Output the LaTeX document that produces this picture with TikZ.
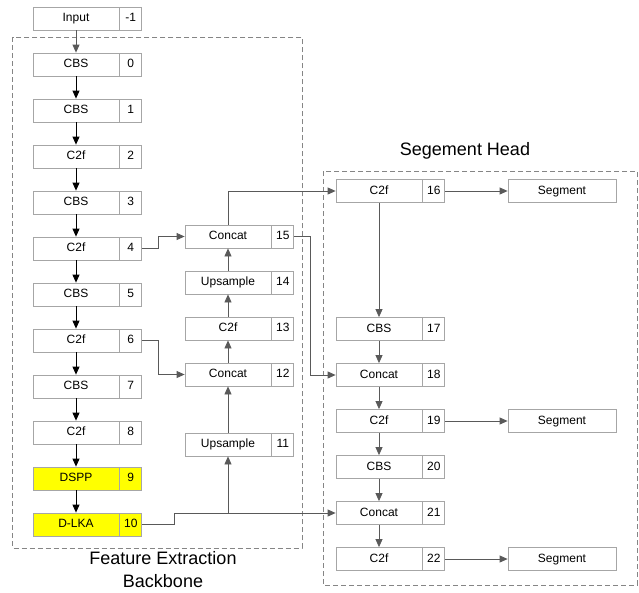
\documentclass[tikz,border=0pt]{standalone}
\usepackage{fontspec}
\setmainfont{Liberation Sans}
\usetikzlibrary{arrows.meta}
\definecolor{boxgray}{HTML}{A6A6A6}
\definecolor{linegray}{HTML}{595959}
\definecolor{dashgray}{HTML}{858585}
\definecolor{layeryellow}{HTML}{FFFF00}
\begin{document}
\begin{tikzpicture}[node distance=46pt, auto]
    % Define styles
    \tikzstyle{layer} = [rectangle, minimum width=86pt, minimum height=23pt, inner sep=0pt, text height=8.6pt, text depth=2.4pt, text centered, draw=boxgray, fill=white, line width=0.8pt, font=\fontsize{12}{14}\selectfont]
    \tikzstyle{num} = [layer, minimum width=22pt, anchor=west]
    \tikzstyle{output} = [layer, minimum width=108pt]
    \tikzstyle{hl} = [fill=layeryellow]
    \tikzstyle{arrow} = [-{Triangle[length=8pt,width=7pt]}, line width=0.8pt, draw=linegray]
    \tikzstyle{arrowblk} = [arrow, draw=black]
    \tikzstyle{group} = [draw=dashgray, line width=0.8pt, dash pattern=on 5pt off 3pt]
    \tikzstyle{title} = [font=\fontsize{18}{23}\selectfont, align=center]

    \useasboundingbox (0,0) rectangle (639pt,-592pt);

    % Group frames
    \draw [group] (12.7pt,-37pt) rectangle (302pt,-548pt);
    \draw [group] (323pt,-171pt) rectangle (637pt,-585pt);
    \node (backbonelabel) [title] at (163pt,-570pt) {Feature Extraction\\Backbone};
    \node (headlabel) [title] at (465pt,-151pt) {Segement Head};

    % Backbone
    \node (input) [layer] at (76pt,-18.5pt) {Input};
    \node (cbs0) [layer, below of=input] {CBS};
    \node (cbs1) [layer, below of=cbs0] {CBS};
    \node (c2f2) [layer, below of=cbs1] {C2f};
    \node (cbs3) [layer, below of=c2f2] {CBS};
    \node (c2f4) [layer, below of=cbs3] {C2f};
    \node (cbs5) [layer, below of=c2f4] {CBS};
    \node (c2f6) [layer, below of=cbs5] {C2f};
    \node (cbs7) [layer, below of=c2f6] {CBS};
    \node (c2f8) [layer, below of=cbs7] {C2f};
    \node (dspp9) [layer, hl, below of=c2f8] {DSPP};
    \node (dlka10) [layer, hl, below of=dspp9] {D-LKA};

    \node (inputn) [num] at (input.east) {-1};
    \node (cbs0n) [num] at (cbs0.east) {0};
    \node (cbs1n) [num] at (cbs1.east) {1};
    \node (c2f2n) [num] at (c2f2.east) {2};
    \node (cbs3n) [num] at (cbs3.east) {3};
    \node (c2f4n) [num] at (c2f4.east) {4};
    \node (cbs5n) [num] at (cbs5.east) {5};
    \node (c2f6n) [num] at (c2f6.east) {6};
    \node (cbs7n) [num] at (cbs7.east) {7};
    \node (c2f8n) [num] at (c2f8.east) {8};
    \node (dspp9n) [num, hl] at (dspp9.east) {9};
    \node (dlka10n) [num, hl] at (dlka10.east) {10};

    % Neck
    \node (concat15) [layer] at (228pt,-236.5pt) {Concat};
    \node (up14) [layer, below of=concat15] {Upsample};
    \node (c2f13) [layer, below of=up14] {C2f};
    \node (concat12) [layer, below of=c2f13] {Concat};
    \node (up11) [layer] at (228pt,-444.5pt) {Upsample};

    \node (concat15n) [num] at (concat15.east) {15};
    \node (up14n) [num] at (up14.east) {14};
    \node (c2f13n) [num] at (c2f13.east) {13};
    \node (concat12n) [num] at (concat12.east) {12};
    \node (up11n) [num] at (up11.east) {11};

    % Head
    \node (c2f16) [layer] at (379pt,-191pt) {C2f};
    \node (cbs17) [layer] at (379pt,-329pt) {CBS};
    \node (concat18) [layer, below of=cbs17] {Concat};
    \node (c2f19) [layer, below of=concat18] {C2f};
    \node (cbs20) [layer, below of=c2f19] {CBS};
    \node (concat21) [layer, below of=cbs20] {Concat};
    \node (c2f22) [layer, below of=concat21] {C2f};

    \node (c2f16n) [num] at (c2f16.east) {16};
    \node (cbs17n) [num] at (cbs17.east) {17};
    \node (concat18n) [num] at (concat18.east) {18};
    \node (c2f19n) [num] at (c2f19.east) {19};
    \node (cbs20n) [num] at (cbs20.east) {20};
    \node (concat21n) [num] at (concat21.east) {21};
    \node (c2f22n) [num] at (c2f22.east) {22};

    \node (seg16) [output] at (562pt,-191pt) {Segment};
    \node (seg19) [output] at (562pt,-421pt) {Segment};
    \node (seg22) [output] at (562pt,-559pt) {Segment};

    % Backbone arrows
    \draw [arrow] (input.south) -- (cbs0.north);
    \draw [arrowblk] (cbs0) -- (cbs1);
    \draw [arrowblk] (cbs1) -- (c2f2);
    \draw [arrowblk] (c2f2) -- (cbs3);
    \draw [arrowblk] (cbs3) -- (c2f4);
    \draw [arrowblk] (c2f4) -- (cbs5);
    \draw [arrowblk] (cbs5) -- (c2f6);
    \draw [arrowblk] (c2f6) -- (cbs7);
    \draw [arrowblk] (cbs7) -- (c2f8);
    \draw [arrowblk] (c2f8) -- (dspp9);
    \draw [arrowblk] (dspp9) -- (dlka10);

    % Neck arrows
    \coordinate (split) at (up11.south |- concat21.west);
    \draw [arrow] (dlka10n.east) -- ++(32pt,0) |- (concat21.west);
    \draw [arrow] (split) -- (up11.south);
    \draw [arrow] (up11) -- (concat12);
    \draw [arrow] (concat12) -- (c2f13);
    \draw [arrow] (c2f13) -- (up14);
    \draw [arrow] (up14) -- (concat15);
    \draw [arrow] (c2f6n.east) -- ++(16pt,0) |- (concat12.west);
    \draw [arrow] (c2f4n.east) -- ++(16pt,0) |- (concat15.west);
    \draw [arrow] (concat15.north) |- (c2f16.west);
    \draw [arrow] (concat15n.east) -- ++(16pt,0) |- (concat18.west);

    % Head arrows
    \draw [arrow] (c2f16) -- (cbs17);
    \draw [arrow] (cbs17) -- (concat18);
    \draw [arrow] (concat18) -- (c2f19);
    \draw [arrow] (c2f19) -- (cbs20);
    \draw [arrow] (cbs20) -- (concat21);
    \draw [arrow] (concat21) -- (c2f22);
    \draw [arrow] (c2f16n) -- (seg16);
    \draw [arrow] (c2f19n) -- (seg19);
    \draw [arrow] (c2f22n) -- (seg22);
\end{tikzpicture}
\end{document}
